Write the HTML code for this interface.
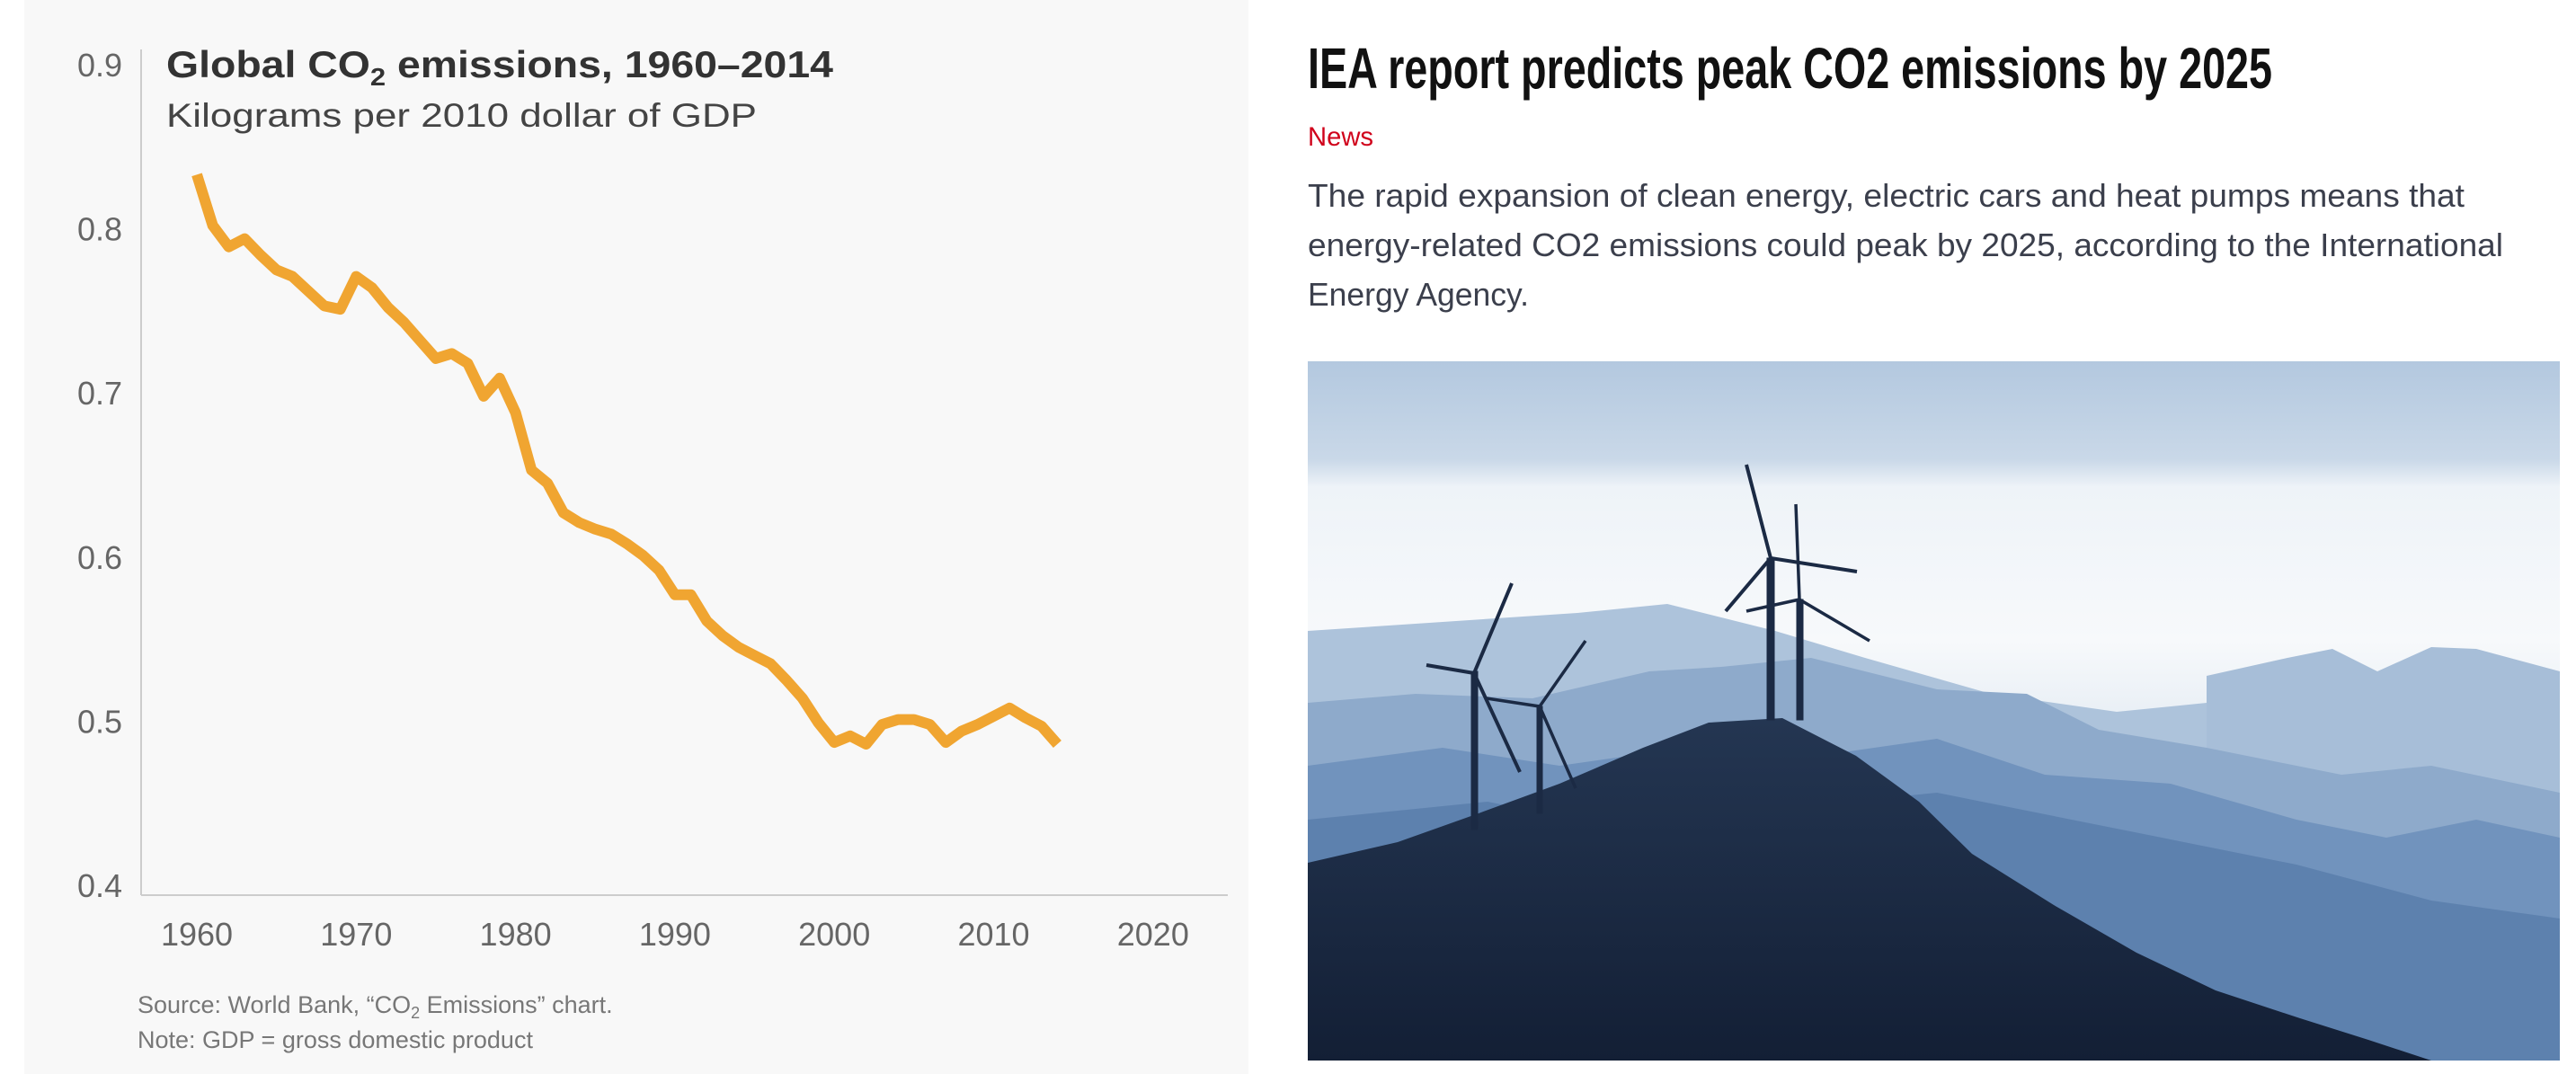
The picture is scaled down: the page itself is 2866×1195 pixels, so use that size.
<!DOCTYPE html>
<html><head><meta charset="utf-8"><style>
html,body{margin:0;padding:0;background:#fff;width:2866px;height:1195px;overflow:hidden}
svg{display:block}
text{font-family:"Liberation Sans",sans-serif}
</style></head><body>
<svg id="root" width="2866" height="1195" viewBox="0 0 2866 1195">
<defs>
<linearGradient id="sky" x1="0" y1="0" x2="0" y2="1">
<stop offset="0" stop-color="#b3c8df"/><stop offset="0.14" stop-color="#c9d8e8"/><stop offset="0.18" stop-color="#eef3f8"/><stop offset="0.4" stop-color="#f7f9fb"/><stop offset="0.55" stop-color="#e3ebf3"/><stop offset="1" stop-color="#c9d7e6"/>
</linearGradient>
<linearGradient id="dark" x1="0" y1="0" x2="0" y2="1"><stop offset="0" stop-color="#243652"/><stop offset="1" stop-color="#131f35"/></linearGradient>
</defs>
<rect x="27" y="0" width="1362" height="1195" fill="#f8f8f8"/>
<g id="chart">
<text x="185" y="86" font-size="42" font-weight="bold" fill="#333" textLength="742" lengthAdjust="spacingAndGlyphs">Global CO<tspan font-size="28" dy="9">2</tspan><tspan dy="-9"> emissions, 1960–2014</tspan></text>
<text x="185" y="141" font-size="37" fill="#444" textLength="657" lengthAdjust="spacingAndGlyphs">Kilograms per 2010 dollar of GDP</text>
<line x1="157" y1="55" x2="157" y2="996" stroke="#ccc" stroke-width="2"/>
<line x1="157" y1="996" x2="1366" y2="996" stroke="#ccc" stroke-width="2"/>
<g id="yticks"></g><g id="xticks"></g>
<polyline id="series" fill="none" stroke="#f0a531" stroke-width="12" stroke-linejoin="round"/>
<text x="153" y="1127" font-size="27" fill="#777">Source: World Bank, “CO<tspan font-size="18" dy="6">2</tspan><tspan dy="-6"> Emissions” chart.</tspan></text>
<text x="153" y="1166" font-size="27" fill="#777">Note: GDP = gross domestic product</text>
</g>
<g>
<text x="1455" y="98" font-size="64" font-weight="bold" fill="#111" textLength="1073" lengthAdjust="spacingAndGlyphs">IEA report predicts peak CO2 emissions by 2025</text>
<text x="1455" y="162" font-size="30" fill="#d0021b" textLength="73" lengthAdjust="spacingAndGlyphs">News</text>
<text x="1455" y="230" font-size="36" fill="#3b3f4c" textLength="1287" lengthAdjust="spacingAndGlyphs">The rapid expansion of clean energy, electric cars and heat pumps means that</text>
<text x="1455" y="285" font-size="36" fill="#3b3f4c" textLength="1330" lengthAdjust="spacingAndGlyphs">energy-related CO2 emissions could peak by 2025, according to the International</text>
<text x="1455" y="340" font-size="36" fill="#3b3f4c" textLength="246" lengthAdjust="spacingAndGlyphs">Energy Agency.</text>
</g>
<g>
<svg x="1455" y="402" width="1393" height="778" viewBox="0 0 1393 778">
<rect width="1393" height="778" fill="url(#sky)"/>
<path d="M0 300 L150 290 L300 280 L400 270 L520 300 L620 330 L760 370 L900 390 L1000 380 L1100 390 L1393 390 L1393 778 L0 778Z" fill="#adc3db"/>
<path d="M1000 350 L1090 330 L1140 320 L1190 345 L1250 318 L1300 320 L1393 345 L1393 778 L1000 778Z" fill="#a7bed8"/>
<path d="M0 380 L120 370 L250 375 L380 345 L460 340 L560 330 L700 365 L800 370 L880 410 L1000 430 L1150 460 L1250 450 L1393 480 L1393 778 L0 778Z" fill="#8eaacb"/>
<path d="M0 450 L150 430 L280 450 L420 430 L560 440 L700 420 L820 460 L960 470 L1100 510 L1200 530 L1300 510 L1393 530 L1393 778 L0 778Z" fill="#7193bd"/>
<path d="M0 510 L200 490 L350 520 L500 500 L700 480 L900 520 L1100 560 L1250 600 L1393 620 L1393 778 L0 778Z" fill="#5d81ae"/>
<path d="M0 558 L100 535 L190 503 L280 470 L373 430 L446 402 L528 397 L610 439 L680 490 L739 548 L830 605 L922 658 L1010 700 L1104 731 L1180 755 L1250 778 L0 778Z" fill="url(#dark)"/>
<g stroke="#1b2a44" fill="#1b2a44">
<rect x="182" y="345" width="7" height="176"/><rect x="255" y="384" width="6" height="119"/>
<rect x="511" y="219" width="8" height="180"/><rect x="544" y="265" width="7" height="134"/>
<path d="M185 347 L227 247 M185 347 L132 338 M185 347 L236 457" stroke-width="4" fill="none"/>
<path d="M258 384 L309 311 M258 384 L199 375 M258 384 L298 475" stroke-width="3.5" fill="none"/>
<path d="M515 219 L488 115 M515 219 L611 234 M515 219 L465 278" stroke-width="4" fill="none"/>
<path d="M547 265 L543 159 M547 265 L625 311 M547 265 L488 278" stroke-width="3.5" fill="none"/>
</g>
</svg>
</g>
</svg>
<script>
const years = [1960,1961,1962,1963,1964,1965,1966,1967,1968,1969,1970,1971,1972,1973,1974,1975,1976,1977,1978,1979,1980,1981,1982,1983,1984,1985,1986,1987,1988,1989,1990,1991,1992,1993,1994,1995,1996,1997,1998,1999,2000,2001,2002,2003,2004,2005,2006,2007,2008,2009,2010,2011,2012,2013,2014];
const values = [0.833,0.802,0.789,0.794,0.784,0.775,0.771,0.762,0.753,0.751,0.771,0.764,0.752,0.743,0.732,0.721,0.724,0.718,0.698,0.709,0.688,0.653,0.645,0.627,0.621,0.617,0.614,0.608,0.601,0.592,0.577,0.577,0.561,0.552,0.545,0.540,0.535,0.525,0.514,0.499,0.487,0.491,0.486,0.498,0.501,0.501,0.498,0.487,0.494,0.498,0.503,0.508,0.502,0.497,0.486];
const yTicks = [0.4,0.5,0.6,0.7,0.8,0.9];
const yTickLabels = ["0.4","0.5","0.6","0.7","0.8","0.9"];
const xTicks = [1960,1970,1980,1990,2000,2010,2020];
const xTickLabels = ["1960","1970","1980","1990","2000","2010","2020"];
const NS="http://www.w3.org/2000/svg";
function xs(yr){return 219+(yr-1960)*17.73;}
function ys(v){return 985-(v-0.4)*1826;}
const yg=document.getElementById('yticks');
yTicks.forEach((t,i)=>{const e=document.createElementNS(NS,'text');
e.setAttribute('x',136);e.setAttribute('y',ys(t)+13);e.setAttribute('text-anchor','end');
e.setAttribute('font-size','36');e.setAttribute('fill','#666');e.textContent=yTickLabels[i];


yg.appendChild(e);});
const xg=document.getElementById('xticks');
xTicks.forEach((t,i)=>{const e=document.createElementNS(NS,'text');
e.setAttribute('x',xs(t));e.setAttribute('y',1052);e.setAttribute('text-anchor','middle');
e.setAttribute('font-size','36');e.setAttribute('fill','#666');e.textContent=xTickLabels[i];


xg.appendChild(e);});
document.getElementById('series').setAttribute('points',years.map((y,i)=>xs(y).toFixed(1)+','+ys(values[i]).toFixed(1)).join(' '));
</script>
</body></html>
